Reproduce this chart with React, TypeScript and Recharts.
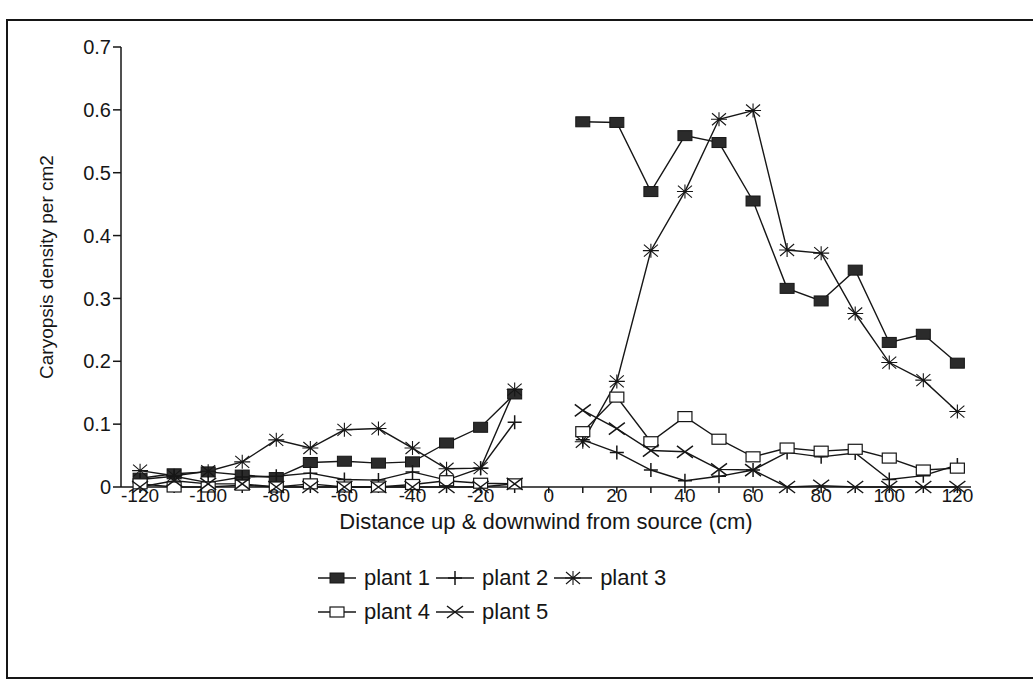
import { Label, Legend, Line, LineChart, XAxis, YAxis } from "recharts";

// distance from the source in cm; 0 is left empty so the two transects stay apart
const distances = [
  -120, -110, -100, -90, -80, -70, -60, -50, -40, -30, -20, -10, 0, 10, 20, 30,
  40, 50, 60, 70, 80, 90, 100, 110, 120,
];

const plant1 = [
  0.014, 0.021, 0.024, 0.019, 0.015, 0.039, 0.041, 0.038, 0.04, 0.07, 0.095, 0.148,
  null,
  0.581, 0.58, 0.47, 0.559, 0.548, 0.455, 0.316, 0.296, 0.345, 0.23, 0.243, 0.197,
];
const plant2 = [
  0.012, 0.017, 0.007, 0.016, 0.017, 0.022, 0.012, 0.011, 0.024, 0.011, 0.03, 0.103,
  null,
  0.075, 0.055, 0.027, 0.01, 0.017, 0.027, 0.055, 0.048, 0.054, 0.012, 0.018, 0.035,
];
const plant3 = [
  0.026, 0.018, 0.025, 0.04, 0.075, 0.062, 0.091, 0.093, 0.062, 0.029, 0.03, 0.155,
  null,
  0.072, 0.168, 0.376, 0.47, 0.585, 0.599, 0.377, 0.372, 0.276, 0.198, 0.17, 0.12,
];
const plant4 = [
  0.005, 0, 0, 0.003, 0, 0.005, 0, 0, 0.004, 0.01, 0.006, 0.005,
  null,
  0.088, 0.143, 0.072, 0.112, 0.076, 0.048, 0.062, 0.057, 0.06, 0.046, 0.027, 0.03,
];
const plant5 = [
  0, 0.01, 0.005, 0.005, 0, 0, 0, 0, 0, 0, 0, 0.005,
  null,
  0.122, 0.093, 0.058, 0.056, 0.028, 0.027, 0, 0.002, 0, 0, 0, 0,
];

const yTicks = [0, 0.1, 0.2, 0.3, 0.4, 0.5, 0.6, 0.7];

type MarkerKind = "filledSquare" | "plus" | "asterisk" | "openSquare" | "cross";

const series: { key: string; name: string; values: (number | null)[]; marker: MarkerKind }[] = [
  { key: "plant1", name: "plant 1", values: plant1, marker: "filledSquare" },
  { key: "plant2", name: "plant 2", values: plant2, marker: "plus" },
  { key: "plant3", name: "plant 3", values: plant3, marker: "asterisk" },
  { key: "plant4", name: "plant 4", values: plant4, marker: "openSquare" },
  { key: "plant5", name: "plant 5", values: plant5, marker: "cross" },
];

const data = distances.map((d, i) => {
  const row: Record<string, number | null> = { distance: d };
  series.forEach((s) => {
    row[s.key] = s.values[i];
  });
  return row;
});

const ink = "#161616";
const font = "'Liberation Sans', Arial, Helvetica, sans-serif";

function Marker({ kind, cx, cy }: { kind: MarkerKind; cx: number; cy: number }) {
  switch (kind) {
    case "filledSquare":
      return <rect x={cx - 7} y={cy - 5} width={14} height={10} fill="#2b2b2b" stroke={ink} strokeWidth={1} />;
    case "openSquare":
      return <rect x={cx - 7} y={cy - 5} width={14} height={10} fill="#fff" stroke={ink} strokeWidth={1.2} />;
    case "plus":
      return (
        <path
          d={`M${cx - 7},${cy}H${cx + 7}M${cx},${cy - 7}V${cy + 7}`}
          stroke={ink}
          strokeWidth={1.5}
          fill="none"
        />
      );
    case "cross":
      return (
        <path
          d={`M${cx - 8},${cy - 6}L${cx + 8},${cy + 6}M${cx - 8},${cy + 6}L${cx + 8},${cy - 6}`}
          stroke={ink}
          strokeWidth={1.5}
          fill="none"
        />
      );
    case "asterisk":
      return (
        <path
          d={`M${cx - 8},${cy}H${cx + 8}M${cx},${cy - 7}V${cy + 7}M${cx - 7},${cy - 6}L${cx + 7},${cy + 6}M${cx - 7},${cy + 6}L${cx + 7},${cy - 6}`}
          stroke={ink}
          strokeWidth={1.1}
          fill="none"
        />
      );
  }
}

function DistanceTick(props: any) {
  const { x, y, payload } = props;
  // every 10 cm gets a tick mark, only every 20 cm a number
  if (payload.value % 20 !== 0) return <g />;
  return (
    <text x={x} y={y} dy={9} textAnchor="middle" fill={ink} fontSize={19} fontFamily={font}>
      {payload.value}
    </text>
  );
}

function PlantLegend() {
  return (
    <div
      style={{
        display: "flex",
        flexWrap: "wrap",
        width: 420,
        rowGap: 4,
        fontFamily: font,
        fontSize: 22,
        color: ink,
      }}
    >
      {series.map((s) => (
        <div key={s.key} style={{ display: "flex", alignItems: "center", height: 30, marginRight: 6 }}>
          <svg width={38} height={20}>
            <line x1={0} y1={10} x2={38} y2={10} stroke={ink} strokeWidth={1.4} />
            <Marker kind={s.marker} cx={19} cy={10} />
          </svg>
          <span style={{ marginLeft: 8 }}>{s.name}</span>
        </div>
      ))}
    </div>
  );
}

export default function App() {
  return (
    <div
      style={{
        position: "absolute",
        left: 0,
        top: 0,
        width: 1033,
        height: 680,
        overflow: "hidden",
        background: "#fff",
      }}
    >
      {/* page frame, open on the right */}
      <div
        style={{
          position: "absolute",
          left: 6,
          top: 19,
          width: 1060,
          height: 656,
          borderLeft: `2px solid ${ink}`,
          borderTop: `2px solid ${ink}`,
          borderBottom: `2px solid ${ink}`,
        }}
      />
      <LineChart
        width={1033}
        height={680}
        data={data}
        margin={{ top: 47, right: 62, bottom: 143, left: 0 }}
        style={{ position: "absolute", left: 0, top: 0 }}
      >
        <XAxis
          dataKey="distance"
          type="number"
          domain={[-125.6, 124]}
          ticks={distances}
          interval={0}
          tick={<DistanceTick />}
          tickSize={6}
          tickMargin={0}
          height={50}
          stroke={ink}
          strokeWidth={1.5}
        >
          <Label
            value="Distance up & downwind from source (cm)"
            position="insideBottom"
            offset={8}
            fill={ink}
            fontSize={22}
            fontFamily={font}
          />
        </XAxis>
        <XAxis
          xAxisId="top"
          orientation="top"
          type="number"
          domain={[-125.6, 124]}
          height={0}
          tick={false}
          tickLine={false}
          stroke={ink}
          strokeWidth={1.5}
        />
        <YAxis
          type="number"
          domain={[0, 0.7]}
          ticks={yTicks}
          interval={0}
          width={121}
          tickSize={8}
          tickMargin={2}
          tickFormatter={(v: number) => (v === 0 ? "0" : v.toFixed(1))}
          tick={{ fill: ink, fontSize: 20, fontFamily: font }}
          stroke={ink}
          strokeWidth={1.5}
        >
          <Label
            content={() => (
              <text
                x={46}
                y={267}
                transform="rotate(-90 46 267)"
                textAnchor="middle"
                dominantBaseline="central"
                fill={ink}
                fontSize={19}
                fontFamily={font}
              >
                Caryopsis density per cm2
              </text>
            )}
          />
        </YAxis>
        <YAxis
          yAxisId="right"
          orientation="right"
          type="number"
          domain={[0, 0.7]}
          width={0}
          tick={false}
          tickLine={false}
          stroke={ink}
          strokeWidth={1.5}
        />
        <Legend
          layout="horizontal"
          verticalAlign="middle"
          align="center"
          content={<PlantLegend />}
          wrapperStyle={{ position: "absolute", left: 318, top: 563, width: 420 }}
        />
        {series.map((s) => (
          <Line
            key={s.key}
            dataKey={s.key}
            name={s.name}
            type="linear"
            stroke={ink}
            strokeWidth={1.4}
            connectNulls={false}
            isAnimationActive={false}
            activeDot={false}
            dot={(p: any) =>
              p.cy == null || p.value == null ? (
                <g key={`${s.key}-${p.index}`} />
              ) : (
                <Marker key={`${s.key}-${p.index}`} kind={s.marker} cx={p.cx} cy={p.cy} />
              )
            }
          />
        ))}
      </LineChart>
    </div>
  );
}
